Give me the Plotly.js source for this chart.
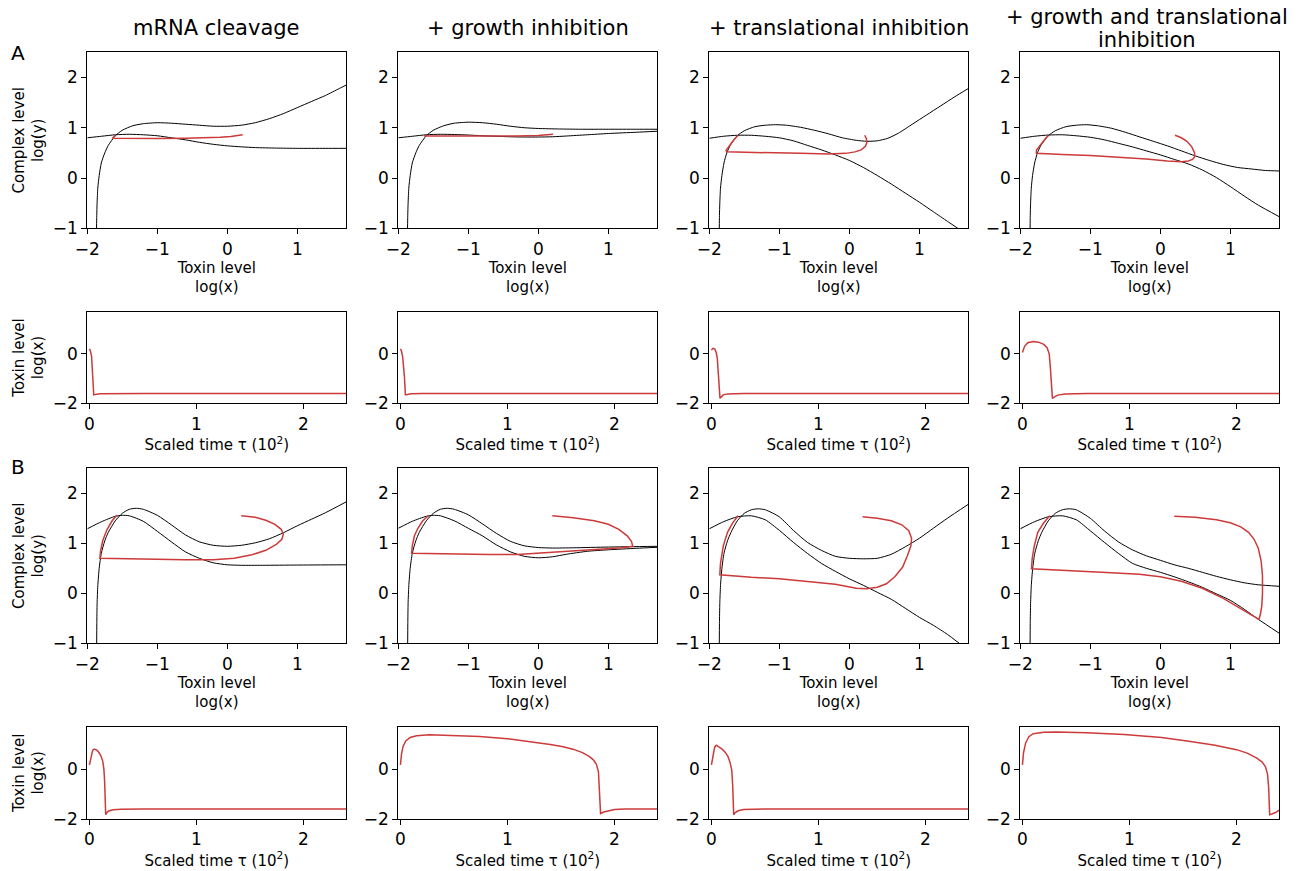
<!DOCTYPE html>
<html>
<head>
<meta charset="utf-8">
<script src="https://cdn.plot.ly/plotly-3.0.1.min.js"></script>
<style>html,body{margin:0;padding:0;background:#fff;}#chart{width:1308px;height:871px;}</style>
</head>
<body>
<div id="chart"></div>
<script>
// ---------- titles / labels ----------
const columnTitles = ["mRNA cleavage", "+ growth inhibition", "+ translational inhibition", "+ growth and translational|inhibition"];
const panelLetters = ["A", "B"];
const phaseXTitle = "Toxin level<br>log(x)";
const phaseYTitle = "Complex level<br>log(y)";
const timeXTitle = "Scaled time \u03c4 (10<sup>2</sup>)";
const timeYTitle = "Toxin level<br>log(x)";
const phaseXTicks = [-2, -1, 0, 1];
const phaseYTicks = [-1, 0, 1, 2];
const timeXTicks = [0, 1, 2];
const timeYTicks = [-2, 0];

// ---------- Row A, phase planes (log x, log y) ----------
// A1 mRNA cleavage
const a1_ny_x = [-1.868,-1.865,-1.86,-1.85,-1.83,-1.8,-1.75,-1.7,-1.6,-1.5,-1.35,-1.2,-1.0,-0.8,-0.6,-0.4,-0.2,0.0,0.2,0.4,0.6,0.8,1.0,1.2,1.4,1.6,1.7];
const a1_ny_y = [-1.0,-0.75,-0.5,-0.2,0.05,0.3,0.5,0.65,0.84,0.95,1.04,1.08,1.1,1.09,1.07,1.05,1.03,1.03,1.05,1.1,1.18,1.28,1.4,1.52,1.64,1.78,1.85];
const a1_nx_x = [-2,-1.8,-1.6,-1.4,-1.2,-1.0,-0.8,-0.6,-0.4,-0.2,0,0.2,0.4,0.7,1.0,1.4,1.7];
const a1_nx_y = [0.8,0.83,0.86,0.87,0.86,0.84,0.8,0.76,0.71,0.67,0.64,0.62,0.605,0.595,0.59,0.59,0.59];
const a1_tr_x = [0.22,0.15,0.05,-0.1,-0.3,-0.6,-1.0,-1.4,-1.6,-1.64,-1.62,-1.6];
const a1_tr_y = [0.86,0.84,0.825,0.81,0.8,0.79,0.785,0.785,0.785,0.79,0.82,0.85];
// A2 + growth inhibition
const a2_ny_x = [-1.868,-1.865,-1.86,-1.85,-1.83,-1.8,-1.75,-1.7,-1.6,-1.5,-1.35,-1.2,-1.0,-0.8,-0.6,-0.4,-0.2,0,0.3,0.6,1.0,1.4,1.7];
const a2_ny_y = [-1,-0.75,-0.5,-0.2,0.05,0.3,0.5,0.65,0.84,0.95,1.04,1.09,1.11,1.1,1.07,1.03,1.0,0.985,0.975,0.97,0.97,0.97,0.97];
const a2_nx_x = [-2,-1.8,-1.6,-1.4,-1.2,-1.0,-0.8,-0.6,-0.4,-0.2,0,0.2,0.4,0.7,1.0,1.4,1.7];
const a2_nx_y = [0.8,0.83,0.86,0.87,0.865,0.855,0.84,0.83,0.82,0.815,0.815,0.82,0.835,0.86,0.885,0.91,0.93];
const a2_tr_x = [0.21,0.1,0,-0.3,-0.7,-1.1,-1.5,-1.63,-1.61,-1.6];
const a2_tr_y = [0.87,0.855,0.845,0.835,0.83,0.83,0.835,0.835,0.84,0.85];
// A3 + translational inhibition
const a3_ny_x = [-1.857,-1.855,-1.85,-1.84,-1.82,-1.79,-1.75,-1.7,-1.6,-1.5,-1.35,-1.2,-1.05,-0.9,-0.7,-0.5,-0.3,-0.1,0.1,0.25,0.4,0.55,0.7,0.9,1.1,1.3,1.5,1.7];
const a3_ny_y = [-1,-0.75,-0.5,-0.2,0.05,0.3,0.5,0.65,0.84,0.94,1.02,1.05,1.06,1.05,1.01,0.95,0.88,0.8,0.75,0.73,0.74,0.79,0.89,1.07,1.25,1.43,1.61,1.78];
const a3_nx_x = [-2,-1.8,-1.6,-1.4,-1.2,-1.0,-0.8,-0.6,-0.4,-0.2,0,0.2,0.4,0.6,0.8,1.0,1.2,1.4,1.55];
const a3_nx_y = [0.79,0.83,0.85,0.85,0.83,0.8,0.74,0.65,0.56,0.46,0.35,0.21,0.05,-0.12,-0.3,-0.48,-0.67,-0.86,-1.0];
const a3_tr_x = [0.22,0.245,0.25,0.23,0.17,0.08,-0.05,-0.3,-0.7,-1.1,-1.5,-1.75,-1.76,-1.72,-1.66,-1.59];
const a3_tr_y = [0.85,0.78,0.7,0.63,0.56,0.52,0.49,0.48,0.49,0.5,0.51,0.52,0.55,0.63,0.74,0.85];
// A4 + growth and translational inhibition
const a4_ny_x = [-1.86,-1.858,-1.853,-1.843,-1.825,-1.795,-1.755,-1.705,-1.6,-1.5,-1.35,-1.2,-1.05,-0.9,-0.7,-0.5,-0.3,-0.1,0.1,0.3,0.5,0.7,0.9,1.1,1.3,1.5,1.7];
const a4_ny_y = [-1,-0.75,-0.5,-0.2,0.05,0.3,0.5,0.65,0.84,0.94,1.02,1.05,1.06,1.04,0.99,0.91,0.82,0.73,0.64,0.54,0.44,0.35,0.27,0.21,0.18,0.15,0.14];
const a4_nx_x = [-2,-1.8,-1.6,-1.4,-1.2,-1.0,-0.8,-0.6,-0.4,-0.2,0,0.2,0.4,0.6,0.8,1.0,1.2,1.4,1.7];
const a4_nx_y = [0.79,0.83,0.855,0.86,0.84,0.81,0.76,0.69,0.62,0.54,0.46,0.37,0.28,0.16,0.01,-0.17,-0.36,-0.54,-0.77];
const a4_tr_x = [0.21,0.3,0.38,0.45,0.49,0.49,0.46,0.4,0.3,0.1,-0.2,-0.6,-1.0,-1.4,-1.77,-1.77,-1.72,-1.66,-1.6];
const a4_tr_y = [0.85,0.8,0.73,0.62,0.5,0.42,0.37,0.34,0.325,0.34,0.38,0.42,0.45,0.47,0.49,0.55,0.65,0.75,0.85];

// ---------- Row A, toxin time series (tau in 10^2, log x) ----------
const ta1_t = [0,0.01,0.02,0.027,0.033,0.037,0.04,0.05,0.07,0.1,0.2,0.5,1.0,2.4];
const ta1_x = [0.2,0.1,-0.1,-0.5,-1.0,-1.4,-1.66,-1.66,-1.63,-1.615,-1.605,-1.6,-1.6,-1.6];
const ta2_t = [0,0.01,0.02,0.03,0.037,0.042,0.046,0.055,0.075,0.1,0.2,0.5,2.4];
const ta2_x = [0.2,0.1,-0.1,-0.45,-0.9,-1.3,-1.65,-1.65,-1.63,-1.615,-1.605,-1.6,-1.6];
const ta3_t = [0,0.015,0.03,0.045,0.055,0.063,0.07,0.075,0.08,0.09,0.11,0.15,0.3,2.4];
const ta3_x = [0.15,0.22,0.2,0.05,-0.2,-0.6,-1.1,-1.5,-1.8,-1.75,-1.66,-1.62,-1.6,-1.6];
const ta4_t = [0,0.02,0.05,0.1,0.15,0.2,0.23,0.25,0.26,0.27,0.28,0.3,0.33,0.4,0.6,2.4];
const ta4_x = [0.05,0.3,0.45,0.5,0.47,0.38,0.25,0.0,-0.5,-1.2,-1.8,-1.74,-1.67,-1.62,-1.6,-1.6];

// ---------- Row B, phase planes ----------
const b1_nx_x = [-2,-1.8,-1.6,-1.5,-1.4,-1.2,-1.0,-0.8,-0.6,-0.4,-0.2,0,0.2,0.5,1.0,1.7];
const b1_nx_y = [1.29,1.43,1.54,1.56,1.55,1.44,1.24,1.03,0.83,0.7,0.61,0.57,0.56,0.56,0.565,0.57];
const b1_ny_x = [-1.866,-1.864,-1.86,-1.85,-1.83,-1.8,-1.75,-1.7,-1.6,-1.5,-1.4,-1.3,-1.2,-1.0,-0.8,-0.6,-0.4,-0.2,0,0.2,0.4,0.6,0.8,1.0,1.2,1.4,1.7];
const b1_ny_y = [-1,-0.6,-0.2,0.15,0.5,0.8,1.05,1.22,1.45,1.6,1.68,1.7,1.68,1.56,1.37,1.17,1.03,0.96,0.94,0.96,1.01,1.09,1.21,1.35,1.48,1.61,1.83];
const b1_tr_x = [0.2,0.4,0.55,0.68,0.77,0.8,0.78,0.7,0.55,0.35,0.1,-0.2,-0.6,-1.0,-1.4,-1.82,-1.81,-1.78,-1.72,-1.65,-1.58];
const b1_tr_y = [1.55,1.52,1.46,1.38,1.28,1.18,1.08,0.98,0.86,0.77,0.7,0.67,0.67,0.68,0.69,0.7,0.85,1.05,1.27,1.44,1.56];

const b2_nx_x = [-2,-1.8,-1.6,-1.5,-1.4,-1.2,-1.0,-0.8,-0.6,-0.4,-0.2,0,0.2,0.4,0.7,1.0,1.4,1.7];
const b2_nx_y = [1.3,1.44,1.54,1.56,1.55,1.45,1.3,1.15,0.97,0.83,0.74,0.71,0.73,0.78,0.84,0.87,0.9,0.92];
const b2_ny_x = [-1.866,-1.864,-1.86,-1.85,-1.83,-1.8,-1.75,-1.7,-1.6,-1.5,-1.4,-1.3,-1.2,-1.0,-0.8,-0.6,-0.4,-0.2,0,0.2,0.5,1.0,1.7];
const b2_ny_y = [-1,-0.6,-0.2,0.15,0.5,0.8,1.05,1.22,1.45,1.6,1.68,1.7,1.68,1.57,1.39,1.2,1.04,0.95,0.915,0.905,0.91,0.925,0.94];
const b2_tr_x = [0.2,0.5,0.8,1.0,1.15,1.27,1.33,1.35,1.2,0.9,0.6,0.3,0,-0.3,-0.7,-1.1,-1.5,-1.81,-1.8,-1.77,-1.72,-1.65,-1.57];
const b2_tr_y = [1.55,1.51,1.45,1.38,1.28,1.15,1.04,0.94,0.91,0.88,0.85,0.82,0.795,0.775,0.775,0.78,0.79,0.8,0.95,1.15,1.3,1.45,1.55];

const b3_nx_x = [-2,-1.8,-1.6,-1.4,-1.2,-1.0,-0.8,-0.6,-0.4,-0.2,0,0.2,0.4,0.6,0.8,1.0,1.2,1.4,1.57];
const b3_nx_y = [1.29,1.43,1.53,1.55,1.47,1.26,1.02,0.8,0.6,0.44,0.29,0.16,0.02,-0.12,-0.3,-0.48,-0.64,-0.82,-1.0];
const b3_ny_x = [-1.857,-1.855,-1.85,-1.84,-1.82,-1.79,-1.74,-1.69,-1.6,-1.5,-1.4,-1.3,-1.2,-1.0,-0.8,-0.6,-0.4,-0.2,0,0.2,0.4,0.6,0.8,1.0,1.2,1.4,1.7];
const b3_ny_y = [-1,-0.6,-0.2,0.15,0.5,0.8,1.05,1.22,1.45,1.6,1.67,1.69,1.67,1.53,1.26,1.02,0.86,0.74,0.7,0.69,0.7,0.78,0.93,1.1,1.3,1.5,1.78];
const b3_tr_x = [0.19,0.4,0.6,0.75,0.85,0.89,0.88,0.83,0.76,0.65,0.53,0.4,0.25,0.1,-0.2,-0.6,-1.0,-1.4,-1.85,-1.84,-1.8,-1.74,-1.67,-1.59];
const b3_tr_y = [1.53,1.5,1.45,1.37,1.25,1.1,0.95,0.75,0.52,0.33,0.19,0.12,0.09,0.1,0.18,0.24,0.29,0.32,0.37,0.6,0.95,1.22,1.4,1.55];

const b4_nx_x = [-2,-1.8,-1.6,-1.4,-1.2,-1.0,-0.8,-0.6,-0.4,-0.2,0,0.2,0.4,0.6,0.8,1.0,1.2,1.4,1.7];
const b4_nx_y = [1.29,1.43,1.53,1.55,1.47,1.25,1.02,0.8,0.6,0.5,0.42,0.33,0.23,0.12,-0.01,-0.14,-0.32,-0.52,-0.8];
const b4_ny_x = [-1.86,-1.858,-1.853,-1.843,-1.823,-1.793,-1.743,-1.693,-1.6,-1.5,-1.4,-1.3,-1.2,-1.0,-0.8,-0.6,-0.4,-0.2,0,0.2,0.4,0.6,0.8,1.0,1.2,1.4,1.7];
const b4_ny_y = [-1,-0.6,-0.2,0.15,0.5,0.8,1.05,1.22,1.45,1.6,1.67,1.69,1.67,1.5,1.25,1.03,0.87,0.75,0.66,0.57,0.5,0.42,0.34,0.27,0.21,0.17,0.14];
const b4_tr_x = [0.2,0.5,0.8,1.0,1.15,1.26,1.34,1.4,1.44,1.46,1.46,1.45,1.43,1.41,1.3,1.1,0.9,0.6,0.3,0,-0.3,-0.7,-1.1,-1.5,-1.84,-1.83,-1.8,-1.75,-1.67,-1.58];
const b4_tr_y = [1.54,1.52,1.47,1.41,1.33,1.22,1.08,0.9,0.65,0.35,0.0,-0.25,-0.42,-0.52,-0.43,-0.26,-0.1,0.1,0.24,0.33,0.38,0.41,0.44,0.46,0.49,0.7,0.95,1.22,1.4,1.55];

// ---------- Row B, toxin time series ----------
const tb1_t = [0,0.015,0.03,0.045,0.07,0.09,0.11,0.125,0.135,0.142,0.147,0.152,0.16,0.18,0.22,0.3,0.5,2.4];
const tb1_x = [0.17,0.55,0.75,0.8,0.76,0.66,0.5,0.3,0.0,-0.5,-1.1,-1.83,-1.76,-1.68,-1.63,-1.605,-1.6,-1.6];
const tb2_t = [0,0.01,0.025,0.05,0.09,0.15,0.27,0.5,0.74,1.0,1.21,1.4,1.52,1.62,1.7,1.76,1.8,1.83,1.85,1.86,1.865,1.87,1.9,1.95,2.0,2.1,2.4];
const tb2_x = [0.17,0.6,0.92,1.13,1.27,1.34,1.38,1.35,1.31,1.22,1.11,0.99,0.9,0.79,0.66,0.52,0.38,0.2,-0.1,-0.8,-1.5,-1.78,-1.72,-1.66,-1.62,-1.6,-1.6];
const tb3_t = [0,0.015,0.03,0.045,0.07,0.1,0.13,0.155,0.175,0.19,0.198,0.203,0.208,0.22,0.25,0.3,0.5,2.4];
const tb3_x = [0.17,0.6,0.88,0.96,0.9,0.8,0.67,0.5,0.25,-0.05,-0.6,-1.3,-1.83,-1.75,-1.67,-1.62,-1.6,-1.6];
const tb4_t = [0,0.01,0.03,0.06,0.1,0.2,0.32,0.6,0.95,1.3,1.57,1.8,2.0,2.1,2.19,2.24,2.27,2.29,2.3,2.305,2.31,2.33,2.36,2.4];
const tb4_x = [0.17,0.65,1.05,1.3,1.42,1.48,1.49,1.46,1.39,1.27,1.11,0.96,0.78,0.64,0.44,0.28,0.1,-0.2,-0.7,-1.3,-1.83,-1.8,-1.75,-1.64];

// ---------- build ----------
const W = 1308, H = 871;
const FONT = "DejaVu Sans, Verdana, sans-serif";
const BLACK = "#000000", RED = "#cc3a3a";
const colLeft = [87.3, 398.3, 709.3, 1020.3], colWidth = 259;
const rowBox = [[52.3, 228.3], [311.7, 403.3], [468.3, 643.3], [726.7, 819]];

const phase = [
  [[a1_ny_x,a1_ny_y],[a1_nx_x,a1_nx_y],[a1_tr_x,a1_tr_y]],
  [[a2_ny_x,a2_ny_y],[a2_nx_x,a2_nx_y],[a2_tr_x,a2_tr_y]],
  [[a3_ny_x,a3_ny_y],[a3_nx_x,a3_nx_y],[a3_tr_x,a3_tr_y]],
  [[a4_ny_x,a4_ny_y],[a4_nx_x,a4_nx_y],[a4_tr_x,a4_tr_y]],
  [[b1_ny_x,b1_ny_y],[b1_nx_x,b1_nx_y],[b1_tr_x,b1_tr_y]],
  [[b2_ny_x,b2_ny_y],[b2_nx_x,b2_nx_y],[b2_tr_x,b2_tr_y]],
  [[b3_ny_x,b3_ny_y],[b3_nx_x,b3_nx_y],[b3_tr_x,b3_tr_y]],
  [[b4_ny_x,b4_ny_y],[b4_nx_x,b4_nx_y],[b4_tr_x,b4_tr_y]]
];
const series = [[ta1_t,ta1_x],[ta2_t,ta2_x],[ta3_t,ta3_x],[ta4_t,ta4_x],[tb1_t,tb1_x],[tb2_t,tb2_x],[tb3_t,tb3_x],[tb4_t,tb4_x]];

const TICK = 17, LABEL = 15, TITLE = 21, LETTER = 20;
const traces = [];
const layout = {
  width: W, height: H,
  margin: {l:0, r:0, t:0, b:0},
  paper_bgcolor: "#fff", plot_bgcolor: "#fff",
  showlegend: false,
  font: {family: FONT, color: "#000", size: TICK},
  annotations: []
};

function axisBase(dom, range, ticks, anchor, title, standoff) {
  const ax = {
    domain: dom, range: range, tickvals: ticks, ticktext: ticks.map(v => v < 0 ? "\u2212" + Math.abs(v) : String(v)),
    ticks: "outside", ticklen: 5, tickwidth: 1, tickcolor: "#000",
    showline: true, linecolor: "#000", linewidth: 1, mirror: true,
    showgrid: false, zeroline: false, anchor: anchor, automargin: false,
    tickfont: {family: FONT, size: TICK, color: "#000"}, fixedrange: true
  };
  if (title) ax.title = {text: title, font: {family: FONT, size: LABEL, color: "#000"}, standoff: standoff};
  return ax;
}

function px2x(p){ return p / W; }
function px2y(p){ return 1 - p / H; }
function note(text, px, py, size) {
  layout.annotations.push({text: text, x: px2x(px), y: px2y(py), xref: "paper", yref: "paper", xanchor: "center", yanchor: "middle", showarrow: false, font: {family: FONT, size: size, color: "#000"}});
}

for (let r = 0; r < 4; r++) {
  for (let c = 0; c < 4; c++) {
    const idx = r * 4 + c + 1;
    const xs = idx === 1 ? "x" : "x" + idx, ys = idx === 1 ? "y" : "y" + idx;
    const xd = [px2x(colLeft[c]), px2x(colLeft[c] + colWidth)];
    const yd = [px2y(rowBox[r][1]), px2y(rowBox[r][0])];
    const isPhase = (r % 2 === 0);
    layout["xaxis" + (idx === 1 ? "" : idx)] = axisBase(xd, isPhase ? [-2, 1.7] : [-0.02, 2.4], isPhase ? phaseXTicks : timeXTicks, ys,
      isPhase ? phaseXTitle : timeXTitle, isPhase ? 4 : 6);
    layout["yaxis" + (idx === 1 ? "" : idx)] = axisBase(yd, isPhase ? [-1, 2.5] : [-2, 1.7], isPhase ? phaseYTicks : timeYTicks, xs,
      c === 0 ? (isPhase ? phaseYTitle : timeYTitle) : null, 5);
    const k = (r >= 2 ? 4 : 0) + c;
    if (isPhase) {
      const p = phase[k];
      traces.push({x: p[0][0], y: p[0][1], xaxis: xs, yaxis: ys, mode: "lines", line: {color: BLACK, width: 1, shape: "spline", smoothing: 0.6}, hoverinfo: "skip"});
      traces.push({x: p[1][0], y: p[1][1], xaxis: xs, yaxis: ys, mode: "lines", line: {color: BLACK, width: 1, shape: "spline", smoothing: 0.6}, hoverinfo: "skip"});
      traces.push({x: p[2][0], y: p[2][1], xaxis: xs, yaxis: ys, mode: "lines", line: {color: RED, width: 1.5}, hoverinfo: "skip"});
    } else {
      const s = series[k];
      traces.push({x: s[0], y: s[1], xaxis: xs, yaxis: ys, mode: "lines", line: {color: RED, width: 1.5}, hoverinfo: "skip"});
    }
  }
}

// column titles
columnTitles.forEach((t, c) => {
  const cxp = colLeft[c] + colWidth / 2;
  const parts = t.split("|");
  if (parts.length === 1) note(parts[0], cxp, 28, TITLE);
  else { note(parts[0], cxp - 3, 17, TITLE); note(parts[1], cxp - 3, 40, TITLE); }
});

// panel letters
note(panelLetters[0], 18, 53, LETTER);
note(panelLetters[1], 18, 467, LETTER);

Plotly.newPlot("chart", traces, layout, {displayModeBar: false, staticPlot: true});
</script>
</body>
</html>
